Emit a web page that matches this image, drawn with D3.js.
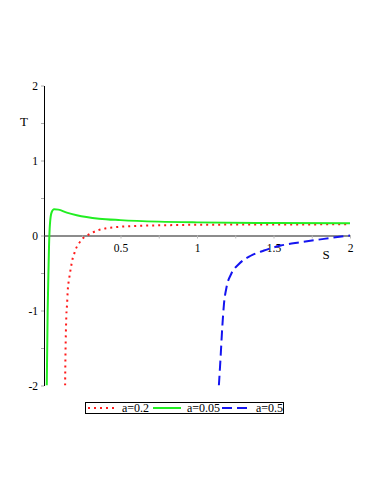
<!DOCTYPE html>
<html>
<head>
<meta charset="utf-8">
<script src="https://cdn.jsdelivr.net/npm/d3@7"></script>
<style>
  body { margin: 0; background: #fff; }
  svg { display: block; }
  text { font-family: "Liberation Serif", "DejaVu Serif", serif; fill: #000; }
</style>
</head>
<body>
<svg id="chart" width="382" height="494"></svg>
<script>
// a = 0.2 (red dotted)
const sRed = [0.138, 0.140, 0.142, 0.146, 0.151, 0.155, 0.164, 0.170, 0.177, 0.184, 0.195, 0.208, 0.227, 0.251, 0.282, 0.354, 0.40, 0.46, 0.6, 0.8, 1.0, 1.5, 2.0];
const tRed = [-2.0, -1.63, -1.39, -1.07, -0.91, -0.74, -0.58, -0.5, -0.416, -0.335, -0.26, -0.18, -0.11, -0.045, 0.0, 0.07, 0.094, 0.11, 0.127, 0.137, 0.143, 0.147, 0.149];

// a = 0.05 (green solid)
const sGreen = [0.018, 0.024, 0.030, 0.033, 0.039, 0.050, 0.066, 0.094, 0.149, 0.214, 0.36, 0.5, 0.75, 1.0, 1.5, 2.0];
const tGreen = [-2.0, -1.0, -0.4, -0.13, 0.157, 0.31, 0.35, 0.345, 0.305, 0.27, 0.224, 0.205, 0.185, 0.175, 0.167, 0.163];

// a = 0.5 (blue dashed)
const sBlue = [1.143, 1.154, 1.165, 1.176, 1.193, 1.224, 1.274, 1.351, 1.438, 1.548, 1.679, 1.83, 2.0];
const tBlue = [-2.0, -1.63, -1.23, -0.92, -0.69, -0.51, -0.38, -0.27, -0.2, -0.134, -0.09, -0.045, 0.0];

const xTicks = [0.25, 0.5, 0.75, 1, 1.25, 1.5, 1.75, 2];
const xLabels = [0.5, 1, 1.5, 2];
const yTicks = [-2, -1.5, -1, -0.5, 0, 0.5, 1, 1.5, 2];
const yLabels = [-2, -1, 0, 1, 2];

const series = [
  { name: "a=0.2", s: sRed, t: tRed, color: "#ff1a1a", dash: "2,4" },
  { name: "a=0.05", s: sGreen, t: tGreen, color: "#22ee22", dash: null },
  { name: "a=0.5", s: sBlue, t: tBlue, color: "#1414f0", dash: "10,5" }
];

const svg = d3.select("#chart");

const x = d3.scaleLinear().domain([0, 2]).range([44, 350]);
const y = d3.scaleLinear().domain([-2, 2]).range([385.5, 85.5]);

// Clip to plot area
svg.append("defs").append("clipPath").attr("id", "plot")
  .append("rect")
  .attr("x", x(0)).attr("y", y(2))
  .attr("width", x(2) - x(0)).attr("height", y(-2) - y(2));

// Y axis
const yAxis = svg.append("g")
  .attr("transform", `translate(${x(0)},0)`)
  .call(d3.axisLeft(y).tickValues(yTicks).tickSizeInner(3).tickSizeOuter(0).tickPadding(3)
    .tickFormat(d => yLabels.includes(d) ? d3.format("d")(d).replace("−", "-") : ""));
yAxis.select(".domain").attr("stroke", "#000").attr("stroke-width", 1);
yAxis.selectAll(".tick line").attr("stroke", "#aaa");
yAxis.selectAll("text").attr("font-size", 11.5);

// X axis at T = 0
const xAxis = svg.append("g")
  .attr("transform", `translate(0,${y(0)})`)
  .call(d3.axisBottom(x).tickValues(xTicks).tickSizeInner(3).tickSizeOuter(0).tickPadding(5)
    .tickFormat(d => xLabels.includes(d) ? String(d) : ""));
xAxis.select(".domain").attr("stroke", "#666").attr("stroke-width", 1.3);
xAxis.selectAll(".tick line").attr("stroke", "#bbb");
xAxis.selectAll("text").attr("font-size", 11.5);

// Axis titles
svg.append("text").attr("x", 24).attr("y", 126).attr("text-anchor", "middle")
  .attr("font-size", 13).text("T");
svg.append("text").attr("x", 326).attr("y", 259).attr("text-anchor", "middle")
  .attr("font-size", 13).text("S");

// Curves
const line = d3.line()
  .x(d => x(d[0]))
  .y(d => y(d[1]))
  .curve(d3.curveMonotoneX);

const plot = svg.append("g").attr("clip-path", "url(#plot)");
series.forEach(sr => {
  plot.append("path")
    .datum(sr.s.map((v, i) => [v, sr.t[i]]))
    .attr("d", line)
    .attr("fill", "none")
    .attr("stroke", sr.color)
    .attr("stroke-width", 2)
    .attr("stroke-dasharray", sr.dash);
});

// Legend
const legend = svg.append("g");
legend.append("rect")
  .attr("x", 85.5).attr("y", 402.5).attr("width", 198).attr("height", 11)
  .attr("fill", "#fff").attr("stroke", "#000").attr("stroke-width", 1);

const legendX = [88, 153, 222];
series.forEach((sr, i) => {
  legend.append("line")
    .attr("x1", legendX[i]).attr("x2", legendX[i] + 28)
    .attr("y1", 408).attr("y2", 408)
    .attr("stroke", sr.color).attr("stroke-width", 2)
    .attr("stroke-dasharray", sr.dash);
  legend.append("text")
    .attr("x", legendX[i] + 34).attr("y", 408).attr("dy", "0.35em")
    .attr("font-size", 12).text(sr.name);
});
</script>
</body>
</html>
